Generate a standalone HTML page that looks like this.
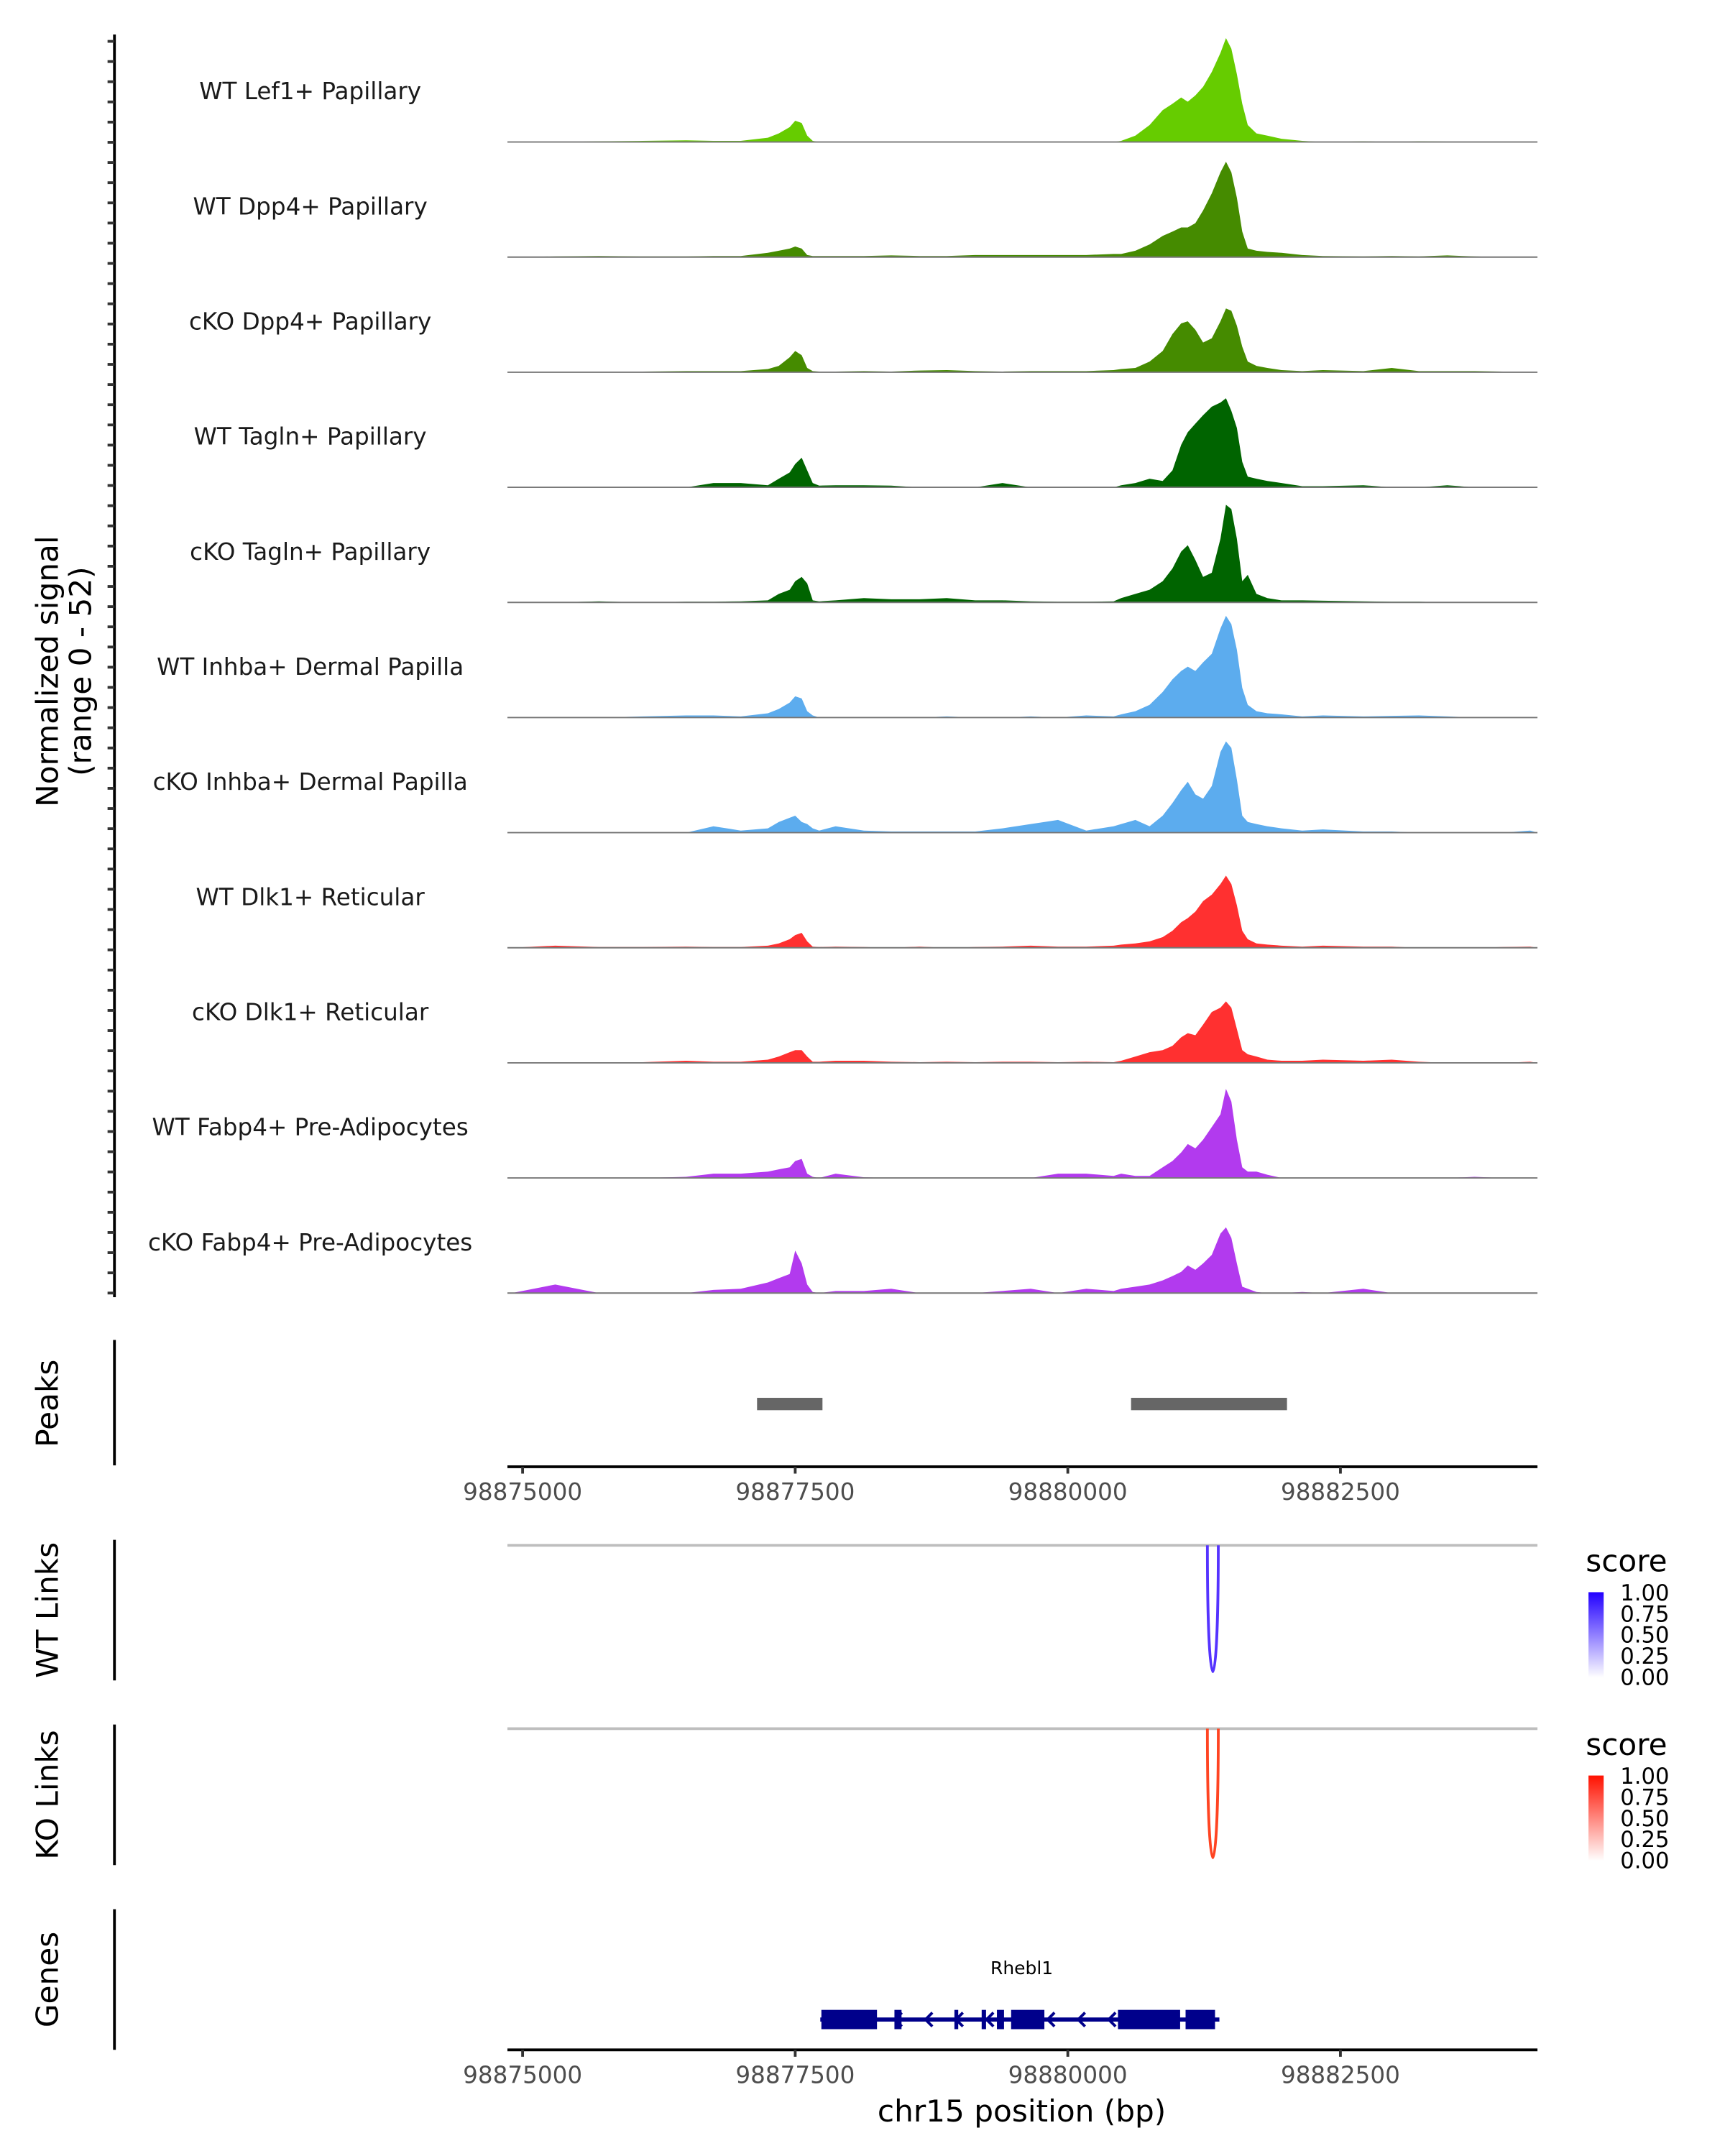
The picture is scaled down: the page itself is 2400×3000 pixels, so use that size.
<!DOCTYPE html>
<html><head><meta charset="utf-8"><style>
html,body{margin:0;padding:0;background:#fff;}
svg{display:block;font-family:"DejaVu Sans","Liberation Sans",sans-serif;}
</style></head><body>
<svg id="chart" width="2400" height="3000" viewBox="0 0 1251 1564" preserveAspectRatio="none" xmlns="http://www.w3.org/2000/svg"></svg>
<script>
const positions=[98874900,98875300,98875700,98876100,98876500,98876750,98877000,98877250,98877350,98877450,98877500,98877560,98877610,98877660,98877720,98877870,98878130,98878380,98878640,98878890,98879150,98879400,98879660,98879910,98880170,98880420,98880490,98880620,98880750,98880870,98880960,98881040,98881100,98881170,98881240,98881320,98881400,98881450,98881500,98881550,98881600,98881650,98881730,98881830,98881960,98882150,98882340,98882710,98882970,98883220,98883480,98883730,98883990,98884240,98884390];
const trackNames=["WT Lef1+ Papillary","WT Dpp4+ Papillary","cKO Dpp4+ Papillary","WT Tagln+ Papillary","cKO Tagln+ Papillary","WT Inhba+ Dermal Papilla","cKO Inhba+ Dermal Papilla","WT Dlk1+ Reticular","cKO Dlk1+ Reticular","WT Fabp4+ Pre-Adipocytes","cKO Fabp4+ Pre-Adipocytes"];
const trackColors=["#66cc00","#458b00","#458b00","#006400","#006400","#5cacee","#5cacee","#ff3030","#ff3030","#b23aee","#b23aee"];
const sLef1WT=[0,0,0.3,0.5,0.8,0.5,0.5,2,4,7,10,9,3,0.5,0,0,0,0,0,0,0,0,0,0,0,0,0.5,3,8,15,18,21,19,22,26,33,42,49,44,32,18,8,4,3,1.5,0.5,0,0.3,0,0.3,0.2,0,0,0,0];
const sDpp4WT=[0,0.3,0.5,0.3,0.3,0.5,0.5,2,3,4,5,4,1,0.5,0.5,0.5,0.5,0.8,0.5,0.5,1,1,1,1,1,1.5,1.5,3,6,10,12,14,14,16,22,30,40,45,40,28,12,4,3,2.5,2,1,0.5,0.3,0.5,0.3,0.8,0.3,0,0,0];
const sDpp4KO=[0,0,0.3,0.3,0.5,0.5,0.5,1.5,3,7,10,8,2,0.5,0.3,0.3,0.5,0.3,0.8,1,0.5,0.3,0.5,0.5,0.5,1,1.5,2,5,10,18,23,24,20,14,16,24,30,29,22,12,5,3,2,1,0.5,1,0.5,2,0.5,0.5,0.5,0.3,0,0];
const sTaglnWT=[0,0,0,0,0,2,2,1,4,7,11,14,8,2,0.8,1,1,0.8,0,0,0,2,0,0,0,0,1,2,4,3,8,20,26,30,34,38,40,42,36,28,12,5,4,3,2,0.5,0.5,1,0,0,1,0,0,0,0];
const sTaglnKO=[0,0,0.5,0,0.3,0.3,0.5,1,4,6,10,12,9,1,0.5,1,2,1.5,1.5,2,1,1,0.5,0.3,0.3,0.5,2,4,6,10,16,24,27,20,12,14,30,46,44,30,10,13,4,2,1,1,0.8,0.5,0.3,0.3,0,0,0,0,0];
const sInhbaWT=[0,0,0,0.5,1,1,0.5,2,4,7,10,9,3,1,0,0,0,0,0,0.5,0,0,0.5,0,1,0.5,1.5,3,6,12,18,22,24,22,26,30,42,48,44,32,14,6,3,2,1.5,0.5,1,0.5,0.8,1,0.5,0,0,0,0];
const sInhbaKO=[0,0,0,0,0,3,1,2,5,7,8,5,4,2,1,3,1,0.5,0.5,0.5,0.5,2,4,6,1,3,4,6,3,8,14,20,24,18,16,22,38,43,40,25,8,5,4,3,2,1,1.5,0.5,0.5,0,0,0,0,1,0];
const sDlk1WT=[0,1,0.3,0.3,0.5,0.3,0.3,1,2,4,6,7,3,0.5,0.3,0.5,0.3,0,0.5,0,0.3,0.5,1,0.5,0.5,1,1.5,2,3,5,8,12,14,17,22,25,30,34,30,20,8,4,2,1.5,1,0.5,1,0.5,0.5,0,0,0,0.3,0.5,0];
const sDlk1KO=[0,0,0,0.3,1,0.5,0.5,1.5,3,5,6,6,3,0.5,0.5,1,1,0.5,0.3,0.5,0.3,0.5,0.5,0.3,0.5,0.3,1,3,5,6,8,12,14,13,18,24,26,29,26,16,6,4,3,1.5,1,1,1.5,1,1.5,0.5,0,0,0,0.5,0];
const sFabp4WT=[0,0,0,0,0.5,2,2,3,4,5,8,9,2,0.5,0,2,0.3,0,0,0,0,0,0,2,2,1,2,1,1,5,8,12,16,14,18,24,30,42,36,18,5,3,3,1.5,0,0,0,0,0,0,0,0.5,0,0,0];
const sFabp4KO=[0,4,0,0,0,1.5,2,5,7,9,20,14,4,0.5,0,1,1,2,0,0,0,1,2,0,2,1,2,3,4,6,8,10,13,11,14,18,28,31,26,14,3,2,0.5,0,0,0.5,0,2,0,0,0,0,0,0,0];
const trackValues=[sLef1WT,sDpp4WT,sDpp4KO,sTaglnWT,sTaglnKO,sInhbaWT,sInhbaKO,sDlk1WT,sDlk1KO,sFabp4WT,sFabp4KO];
const yMax=52;
const peakStarts=[98877150,98880580];
const peakEnds=[98877750,98882010];
const tickValues=[98875000,98877500,98880000,98882500];
const tickLabels=["98875000","98877500","98880000","98882500"];
const wtLink=[98881280,98881380];
const koLink=[98881280,98881380];
const legendTicks=["1.00","0.75","0.50","0.25","0.00"];
const exonStarts=[98877740,98878410,98878960,98879210,98879350,98879480,98880460,98881080];
const exonEnds=[98878250,98878475,98878995,98879250,98879415,98879785,98881030,98881350];
const geneStart=98877730, geneEnd=98881390;
const geneName="Rhebl1";

const NS="http://www.w3.org/2000/svg";
const svg=document.getElementById('chart');
function mk(tag,attrs,parent){const e=document.createElementNS(NS,tag);for(const k in attrs)e.setAttribute(k,attrs[k]);(parent||svg).appendChild(e);return e;}
const X0=368,X1=1115;
function xs(bp){return 379+(bp-98875000)*197.7/2500;}

let e;
e=mk('line',{x1:83,y1:25,x2:83,y2:941,stroke:'#000','stroke-width':2});


for(let i=0;i<=62;i++){const y=30+i*(938-30)/62;
 e=mk('line',{x1:78,y1:y,x2:83,y2:y,stroke:'#333','stroke-width':2});
 
 }
e=mk('text',{x:0,y:0,transform:'translate(42,487) rotate(-90)','text-anchor':'middle','font-size':22,fill:'#000'});
e.textContent='Normalized signal';


e=mk('text',{x:0,y:0,transform:'translate(66,487) rotate(-90)','text-anchor':'middle','font-size':22,fill:'#000'});
e.textContent='(range 0 - 52)';



const H=80;
trackValues.forEach((vals,t)=>{
 const base=103+t*83.5;
 const g=mk('g',{});
 
 
 let d='M'+X0+','+base;
 positions.forEach((p,i)=>{d+=' L'+Math.min(X1,xs(p)).toFixed(1)+','+(base-vals[i]/yMax*H).toFixed(1);});
 d+=' L'+X1+','+base+' Z';
 const a=mk('path',{d:d,fill:trackColors[t],stroke:'none'},g);
 
 
 const bl=mk('line',{x1:X0,y1:base,x2:X1,y2:base,stroke:'#777','stroke-width':1},g);
 
 
 const lb=mk('text',{x:225,y:base-31,'text-anchor':'middle','font-size':17,fill:'#1a1a1a'},g);
 lb.textContent=trackNames[t];
 
 
});

function sideLabel(txt,y,y1,y2,name){
 let l=mk('line',{x1:83,y1:y1,x2:83,y2:y2,stroke:'#000','stroke-width':2});
 
 
 let t=mk('text',{x:0,y:0,transform:'translate(42,'+y+') rotate(-90)','text-anchor':'middle','font-size':22,fill:'#000'});
 t.textContent=txt;
 
 
}
sideLabel('Peaks',1018,972,1063,'peaks');
sideLabel('WT Links',1168,1117,1219,'wt-links');
sideLabel('KO Links',1302,1251,1353,'ko-links');
sideLabel('Genes',1436,1385,1487,'genes');

peakStarts.forEach((s,i)=>{
 e=mk('rect',{x:xs(s),y:1014,width:xs(peakEnds[i])-xs(s),height:9,fill:'#666'});
 
 
});

function xAxis(y,name){
 let l=mk('line',{x1:X0,y1:y,x2:X1,y2:y,stroke:'#000','stroke-width':2});
 
 
 tickValues.forEach((v,i)=>{
  let tk=mk('line',{x1:xs(v),y1:y,x2:xs(v),y2:y+5,stroke:'#333','stroke-width':2});
  
  
  let tx=mk('text',{x:xs(v),y:y+24,'text-anchor':'middle','font-size':17,fill:'#4d4d4d'});
  tx.textContent=tickLabels[i];
  
  
 });
}
xAxis(1064,'peaks-x-axis');
xAxis(1487,'genes-x-axis');
e=mk('text',{x:741,y:1539,'text-anchor':'middle','font-size':22,fill:'#000'});
e.textContent='chr15 position (bp)';



function linkPanel(top,bottom,link,color,grad,name){
 let l=mk('line',{x1:X0,y1:top,x2:X1,y2:top,stroke:'#bebebe','stroke-width':2});
 
 
 const a=xs(link[0]),b=xs(link[1]);
 let p=mk('path',{d:`M${a},${top} C${a},${top+(bottom-top)*1.3} ${b},${top+(bottom-top)*1.3} ${b},${top}`,fill:'none',stroke:color,'stroke-width':2});
 
 
 const lt=top+11;
 let s=mk('text',{x:1150,y:lt+8,'font-size':22,fill:'#000'});
 s.textContent='score';
 
 
 const gid=name+'-grad';
 const defs=mk('defs',{});
 const lg=mk('linearGradient',{id:gid,x1:0,y1:0,x2:0,y2:1},defs);
 mk('stop',{offset:0,'stop-color':grad},lg);
 mk('stop',{offset:1,'stop-color':'#ffffff'},lg);
 let r=mk('rect',{x:1152,y:lt+23,width:11,height:62,fill:'url(#'+gid+')'});
 
 
 legendTicks.forEach((t,i)=>{
  let tx=mk('text',{x:1175,y:lt+29+i*15.3,'font-size':16,fill:'#000'});
  tx.textContent=t;
  
  
 });
}
linkPanel(1121,1215,wtLink,'#5533ff','#2200ff','wt-links');
linkPanel(1254,1350,koLink,'#ff4422','#ff1100','ko-links');

e=mk('text',{x:741,y:1432,'text-anchor':'middle','font-size':13,fill:'#000'});
e.textContent=geneName;


e=mk('line',{x1:xs(geneStart),y1:1465,x2:xs(geneEnd),y2:1465,stroke:'#00008b','stroke-width':3});


for(let bp=geneStart+150;bp<geneEnd;bp+=280){
 const cx=xs(bp);
 e=mk('path',{d:`M${cx+3},${1460} L${cx-2},${1465} L${cx+3},${1470}`,fill:'none',stroke:'#00008b','stroke-width':2});
 
 
}
exonStarts.forEach((s,i)=>{
 e=mk('rect',{x:xs(s),y:1458,width:xs(exonEnds[i])-xs(s),height:14,fill:'#00008b'});
 
 
});
</script>
</body></html>
